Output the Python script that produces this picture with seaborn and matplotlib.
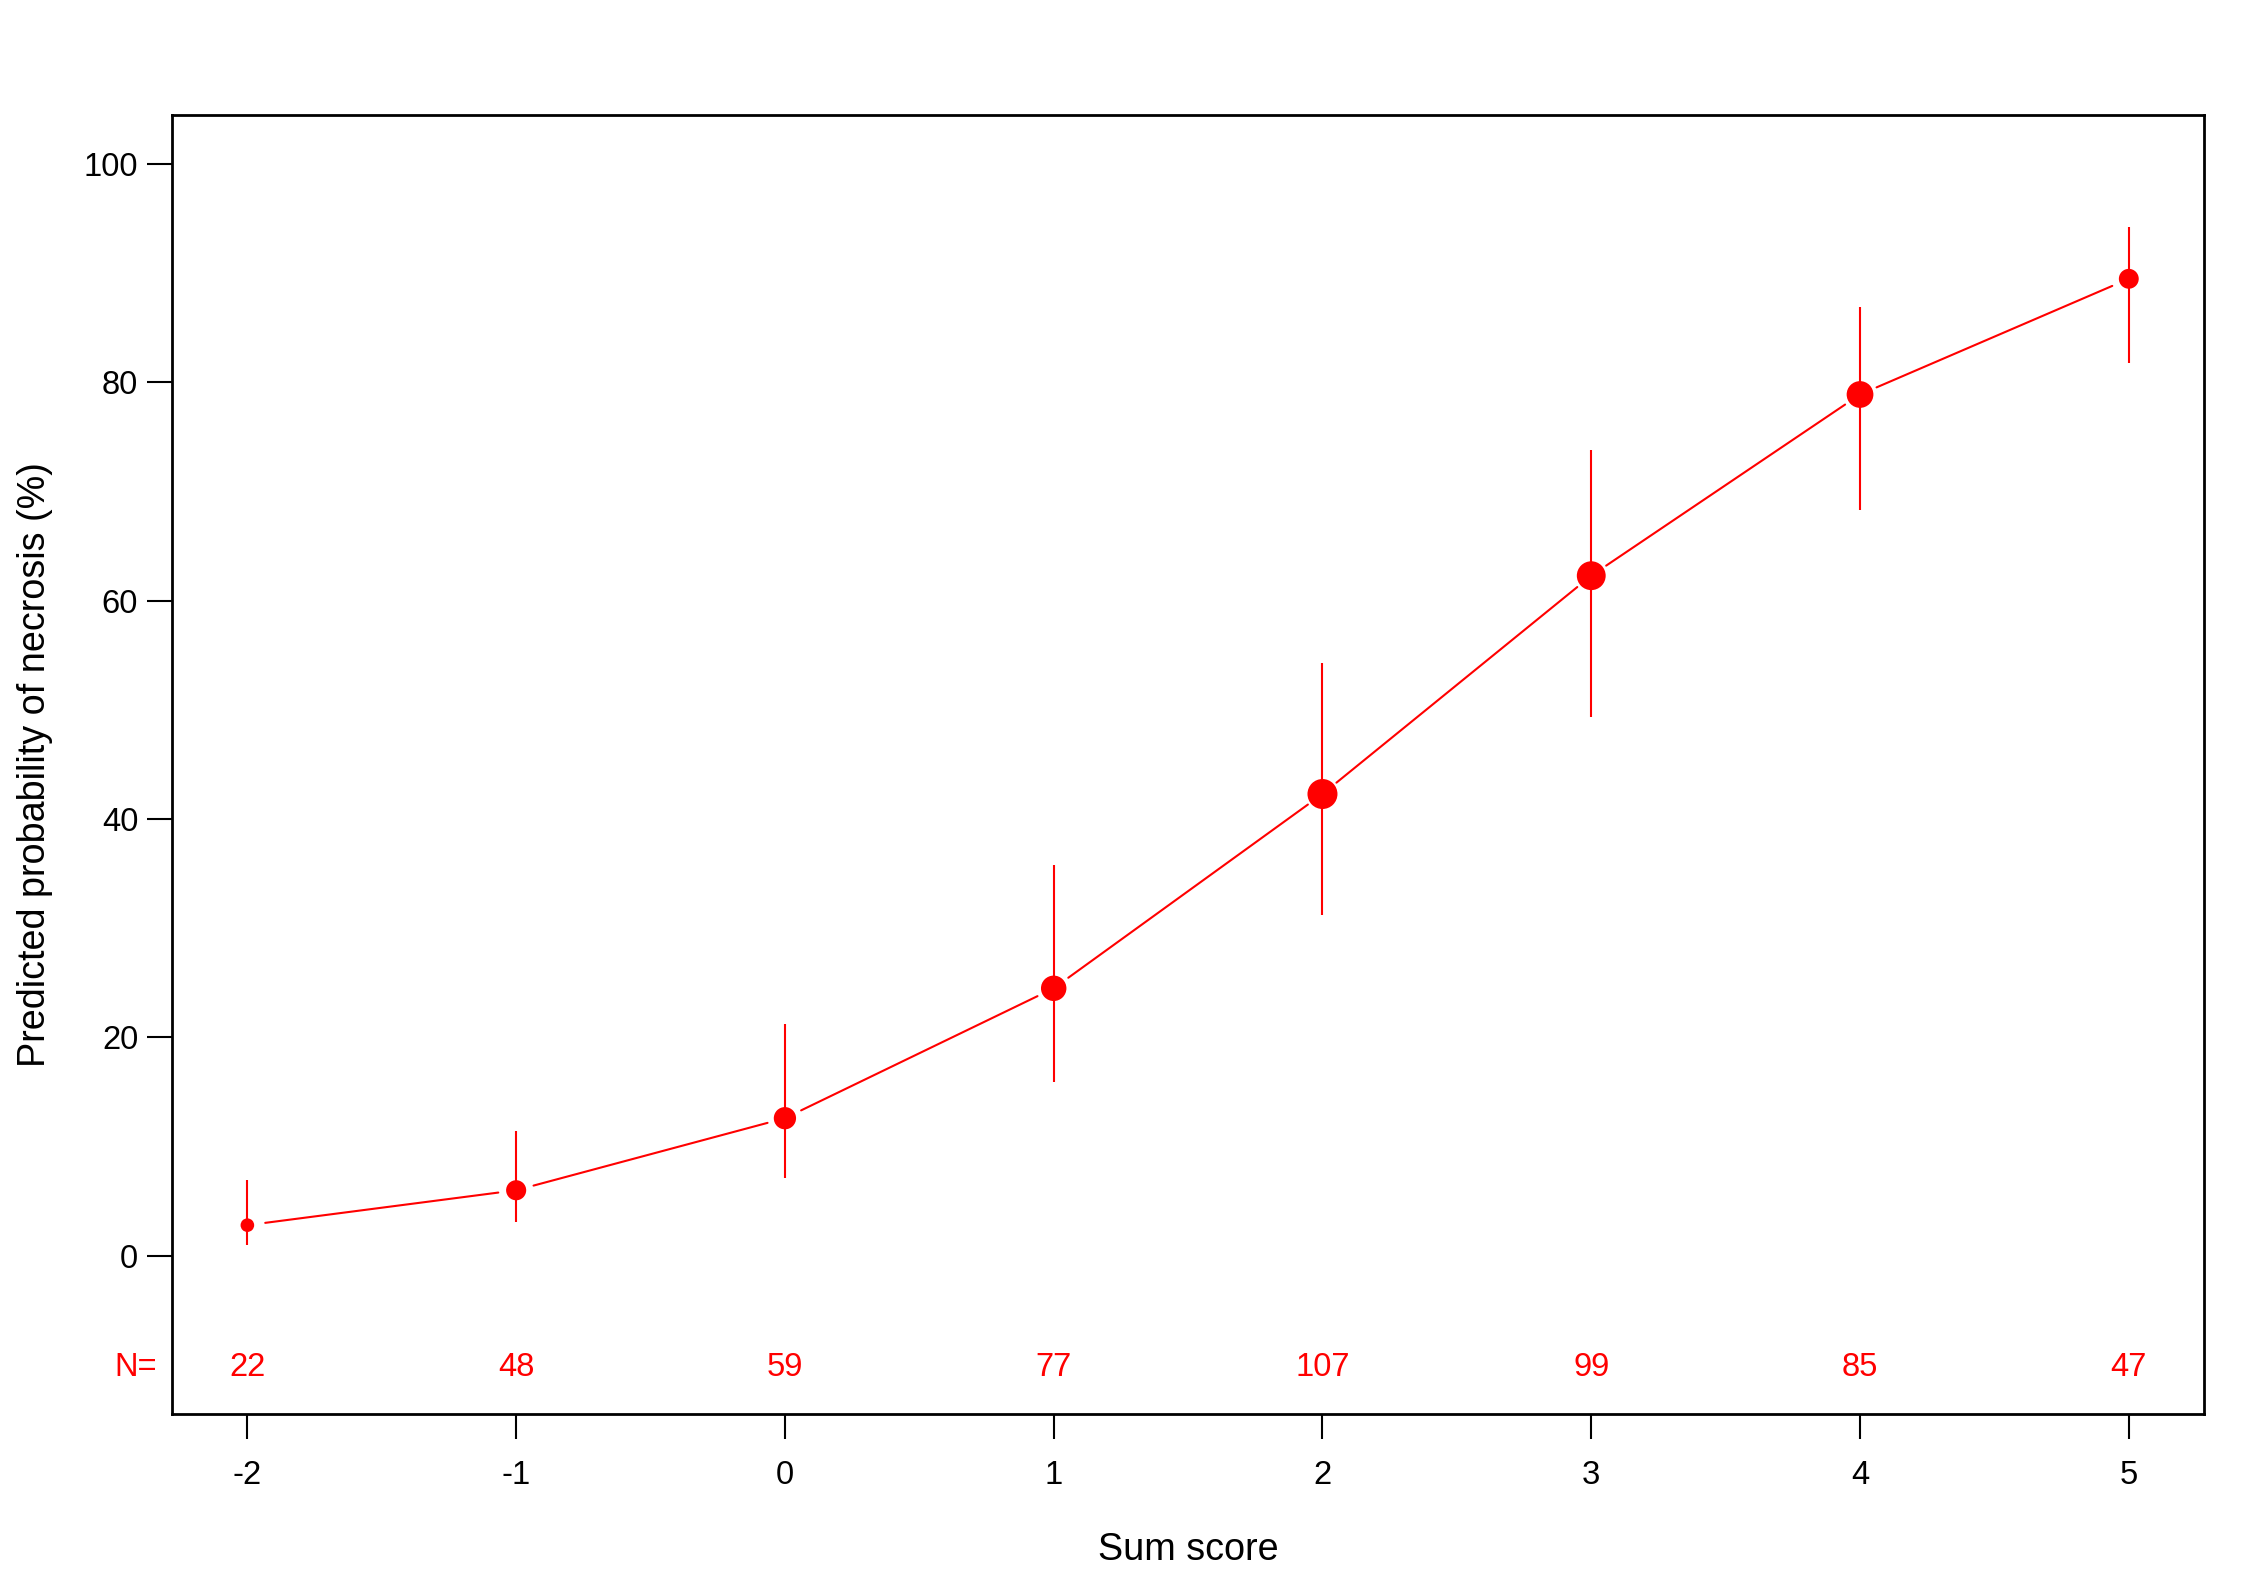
import numpy as np
import pandas as pd
import seaborn as sns
import matplotlib.pyplot as plt

# data
score = [-2, -1, 0, 1, 2, 3, 4, 5]
prob = [2.8, 6.0, 12.6, 24.5, 42.3, 62.3, 78.9, 89.5]
lower = [1.0, 3.1, 7.1, 15.9, 31.2, 49.4, 68.3, 81.8]
upper = [6.9, 11.4, 21.2, 35.8, 54.3, 73.8, 86.9, 94.2]
n_obs = [22, 48, 59, 77, 107, 99, 85, 47]

df = pd.DataFrame({"score": score, "prob": prob, "lower": lower,
                   "upper": upper, "n": n_obs})

sns.set_theme(style="ticks")
plt.rcParams['font.family'] = ['Liberation Sans', 'DejaVu Sans']

red = "#FF0000"
small = 11.8   # tick labels and counts
big = 13.6     # axis titles
dpi = 200
fig = plt.figure(figsize=(2244 / dpi, 1587 / dpi), dpi=dpi)
ax = fig.add_axes([0.0767, 0.109, 0.9822 - 0.0767, 0.9275 - 0.109])
ax.set_xlim(-2.28, 5.28)
ax.set_ylim(-14.5, 104.5)

# error bars
ax.vlines(df["score"], df["lower"], df["upper"], color=red, lw=0.75, zorder=2)

# points, area proportional to N
k = 1.09
sns.scatterplot(data=df, x="score", y="prob", size="n",
                sizes=(k * min(n_obs), k * max(n_obs)),
                size_norm=(min(n_obs), max(n_obs)),
                color=red, edgecolor="none", legend=False, ax=ax, zorder=3)

# connecting line with gaps around the points (like R type="b")
gap = 18
pts = ax.transData.transform(np.column_stack([df["score"], df["prob"]]))
inv = ax.transData.inverted()
for p0, p1 in zip(pts[:-1], pts[1:]):
    d = p1 - p0
    u = d / np.hypot(*d)
    seg = inv.transform(np.array([p0 + u * gap, p1 - u * gap]))
    ax.plot(seg[:, 0], seg[:, 1], color=red, lw=0.75, zorder=2)

# N counts
for s, n in zip(score, n_obs):
    ax.text(s, -10.2, str(n), color=red, ha="center", va="center", fontsize=small)
ax.text(-2.415, -10.2, "N=", color=red, ha="center", va="center",
        fontsize=small, clip_on=False)

ax.set_xticks(score)
ax.set_xticklabels([str(s) for s in score])
ax.set_yticks([0, 20, 40, 60, 80, 100])
ax.tick_params(axis="both", direction="out", length=9, width=0.75,
               colors="black", labelsize=small)
ax.tick_params(axis="x", pad=7.6)
ax.tick_params(axis="y", pad=3.2)
for sp in ax.spines.values():
    sp.set_visible(True)
    sp.set_linewidth(1.0)
    sp.set_color("black")

ax.set_xlabel("Sum score", fontsize=big, color="black")
ax.set_ylabel("Predicted probability of necrosis (%)", fontsize=big, color="black")
ax.xaxis.set_label_coords(0.5, -0.091)
ax.yaxis.set_label_coords(-0.0586, 0.5)

fig.savefig("out.png", dpi=dpi, facecolor="white")
